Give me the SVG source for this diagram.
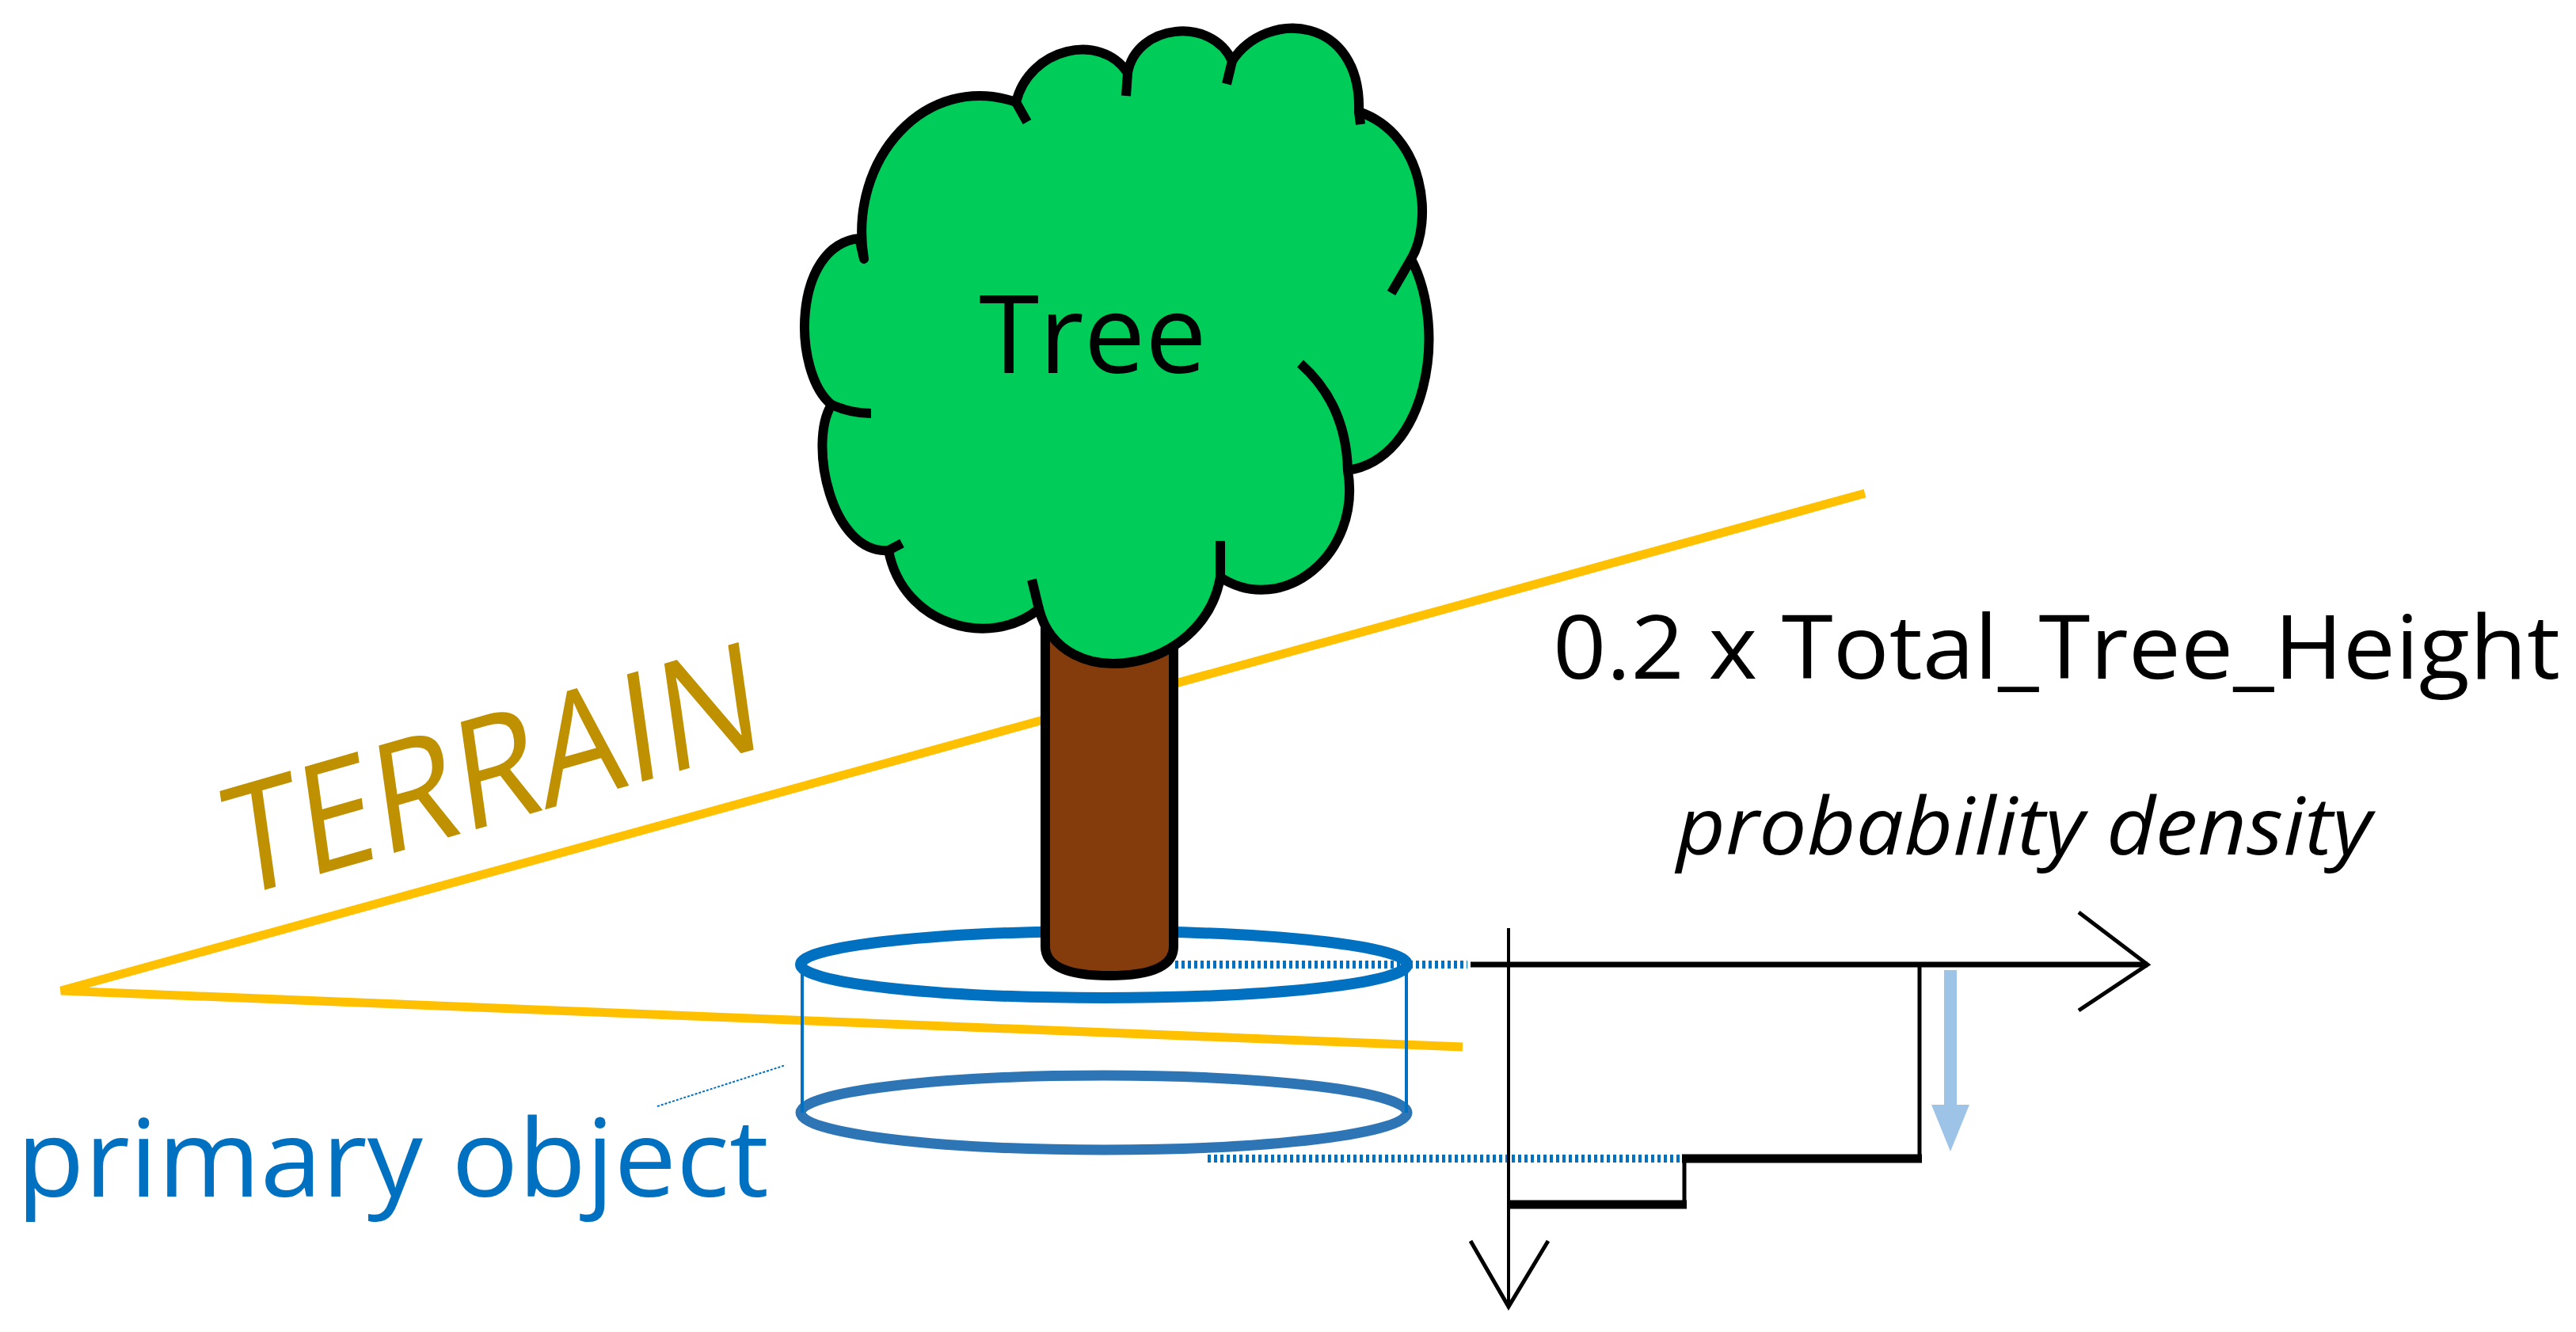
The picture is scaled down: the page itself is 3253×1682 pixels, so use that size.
<svg xmlns="http://www.w3.org/2000/svg" width="3253" height="1682" viewBox="0 0 3253 1682">
<style>
.t{font-family:"Open Sans","Liberation Sans",sans-serif}
.ax{stroke:#000;fill:none;stroke-width:4}
</style>
<rect width="3253" height="1682" fill="#fff"/>
<g id="terrain">
<polyline points="2355,623 77,1251 1847,1322" fill="none" stroke="#ffc000" stroke-width="11"/>
<text class="t" x="0" y="0" font-size="190" fill="#bf9000" transform="translate(295,1135) rotate(-16) skewX(-8)" textLength="700" lengthAdjust="spacingAndGlyphs">TERRAIN</text>
</g>
<g id="cylinder">
<ellipse cx="1394" cy="1218" rx="383" ry="42" fill="none" stroke="#0070c0" stroke-width="14"/>
<ellipse cx="1394" cy="1405" rx="383" ry="47" fill="none" stroke="#2e75b6" stroke-width="13"/>
<line x1="1013" y1="1218" x2="1013" y2="1405" stroke="#0070c0" stroke-width="4"/>
<line x1="1776" y1="1218" x2="1776" y2="1405" stroke="#0070c0" stroke-width="4"/>
</g>
<g id="tree">
<path d="M1320,760 V1195 Q1320,1232 1401,1232 Q1482,1232 1482,1195 V760" fill="#843c0c" stroke="#000" stroke-width="12"/>
<path d="M1091,327 C1070,200 1170,90 1283,129 C1300,60 1390,40 1424,92 C1435,30 1530,20 1556,77 C1600,10 1720,20 1716,141 C1800,170 1810,280 1782,327 C1830,420 1800,580 1702,594 C1720,700 1620,780 1541,729 C1520,850 1340,880 1312,769 C1250,820 1140,790 1122,695 C1050,700 1020,560 1050,511 C1000,470 1000,310 1085,301 Z" fill="#00cc5a" stroke="#000" stroke-width="12" stroke-linejoin="round"/>
<path d="M1283,129 L1297,154 M1424,92 L1422,121 M1556,77 L1549,106 M1716,141 L1718,157 M1782,327 L1757,370 M1642,459 Q1700,510 1702,594 M1541,729 L1541,683 M1312,769 L1303,732 M1122,695 L1139,686 M1050,511 Q1075,522 1100,522" fill="none" stroke="#000" stroke-width="12"/>
<text class="t" x="1380" y="471" font-size="138" text-anchor="middle" fill="#000">Tree</text>
</g>
<g id="connectors">
<line x1="1484" y1="1218" x2="1853" y2="1218" stroke="#0070c0" stroke-width="10" stroke-dasharray="4,4"/>
<line x1="1525" y1="1463" x2="2127" y2="1463" stroke="#0070c0" stroke-width="10" stroke-dasharray="4,4"/>
<line x1="830" y1="1397" x2="992" y2="1345" stroke="#0070c0" stroke-width="2" stroke-dasharray="3,2"/>
</g>
<g id="chart">
<line class="ax" x1="1857" y1="1218" x2="2712" y2="1218" style="stroke-width:7"/>
<polyline class="ax" points="2625,1152 2712,1218 2625,1276" style="stroke-width:5"/>
<line class="ax" x1="1905" y1="1172" x2="1905" y2="1648"/>
<polyline class="ax" points="1857,1567 1905,1650 1955,1567" style="stroke-width:5"/>
<polyline points="2424,1218 2424,1463 2127,1463 2127,1521 1905,1521" fill="none" stroke="#000" stroke-width="5"/>
<line x1="2124" y1="1463" x2="2427" y2="1463" stroke="#000" stroke-width="11"/>
<line x1="1905" y1="1521" x2="2130" y2="1521" stroke="#000" stroke-width="11"/>
<line x1="2463" y1="1225" x2="2463" y2="1400" stroke="#9dc3e6" stroke-width="16"/>
<polygon points="2439,1395 2487,1395 2463,1454" fill="#9dc3e6"/>
<text class="t" x="1961" y="857" font-size="112" textLength="1272" lengthAdjust="spacingAndGlyphs" fill="#000">0.2 x Total_Tree_Height</text>
<text class="t" x="2117" y="1079" font-size="100" font-style="italic" textLength="878" lengthAdjust="spacingAndGlyphs" fill="#000">probability density</text>
</g>
<g id="label">
<text class="t" x="21" y="1511" font-size="136" textLength="950" lengthAdjust="spacingAndGlyphs" fill="#0070c0">primary object</text>
</g>
</svg>
